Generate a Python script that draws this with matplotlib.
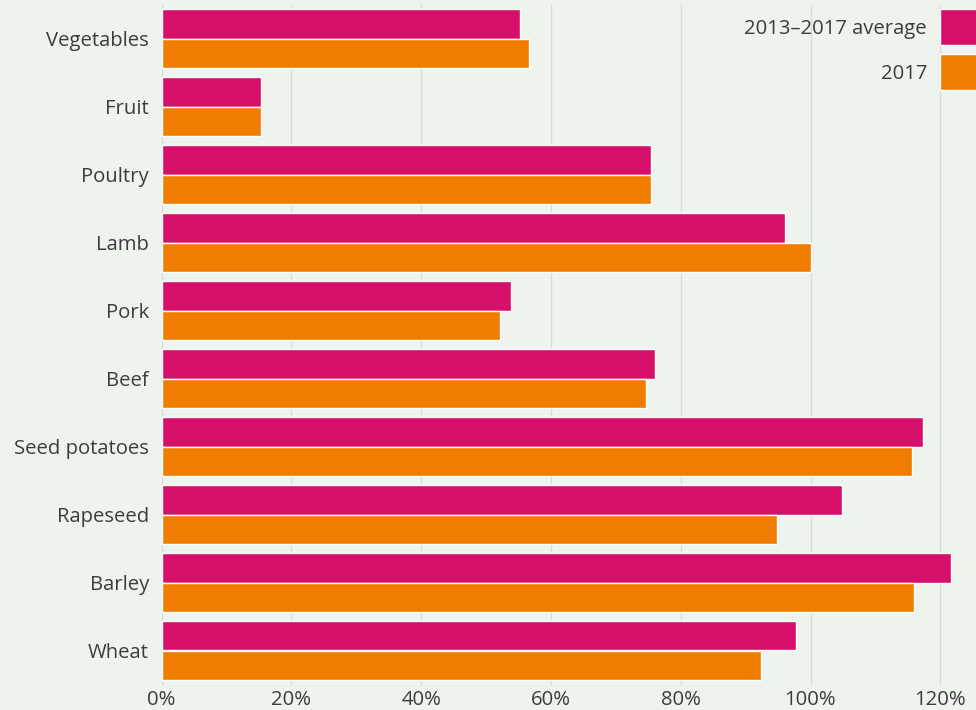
import matplotlib
matplotlib.use("Agg")
import matplotlib.pyplot as plt
from matplotlib.patches import Rectangle
import numpy as np

categories = ["Vegetables", "Fruit", "Poultry", "Lamb", "Pork", "Beef",
              "Seed potatoes", "Rapeseed", "Barley", "Wheat"]
avg_2013_2017 = [55.2, 15.3, 75.5, 96.0, 53.9, 76.0, 117.3, 104.8, 121.6, 97.7]
val_2017 = [56.7, 15.3, 75.5, 100.0, 52.2, 74.6, 115.6, 94.9, 115.9, 92.3]
xticks = [0, 20, 40, 60, 80, 100, 120]
xticklabels = ["0%", "20%", "40%", "60%", "80%", "100%", "120%"]
series_names = ["2013\u20132017 average", "2017"]

BG = "#EFF3EE"
MAG = "#D6106A"
ORA = "#F07D00"
TXT = "#3C3C3C"
GRID = "#D8DBD7"

plt.rcParams['font.family'] = ['Open Sans', 'DejaVu Sans']

W, H = 976, 710
fig = plt.figure(figsize=(W / 100, H / 100), dpi=100, facecolor=BG)
left = 161.5 / W
top = 4.5
bottom = 684.5
ax = fig.add_axes([left, 1 - bottom / H, 1 - left, (bottom - top) / H])
ax.set_facecolor(BG)

y = np.arange(len(categories))
bh = 0.44
ax.barh(y - bh / 2, avg_2013_2017, height=bh, color=MAG, edgecolor="white", linewidth=1.0, zorder=3)
ax.barh(y + bh / 2, val_2017, height=bh, color=ORA, edgecolor="white", linewidth=1.0, zorder=3)

ax.set_xlim(0, (W - 161.5) / 6.49)
ax.set_ylim(len(categories) - 0.5, -0.5)
ax.set_xticks(xticks)
ax.set_xticklabels(xticklabels)
ax.set_yticks(y)
ax.set_yticklabels(categories)
ax.tick_params(axis="both", length=0, labelsize=14.6, labelcolor=TXT)
ax.tick_params(axis="y", pad=9)
ax.tick_params(axis="x", pad=4)
ax.grid(axis="x", color=GRID, linewidth=1.0, zorder=0)
ax.grid(axis="y", visible=False)
for s in ax.spines.values():
    s.set_visible(False)

# legend (manual, at top-right)
cols = [MAG, ORA]
ys = [9, 54]
for name, c, yy in zip(series_names, cols, ys):
    fig.patches.append(Rectangle((940 / W, 1 - (yy + 36) / H), 60 / W, 36 / H,
                                 transform=fig.transFigure, facecolor=c,
                                 edgecolor="white", linewidth=1.0, zorder=5))
    fig.text(927 / W, 1 - (yy + 20) / H, name, ha="right", va="center",
             fontsize=14.6, color=TXT)

fig.savefig("out.png", dpi=100, facecolor=BG)
